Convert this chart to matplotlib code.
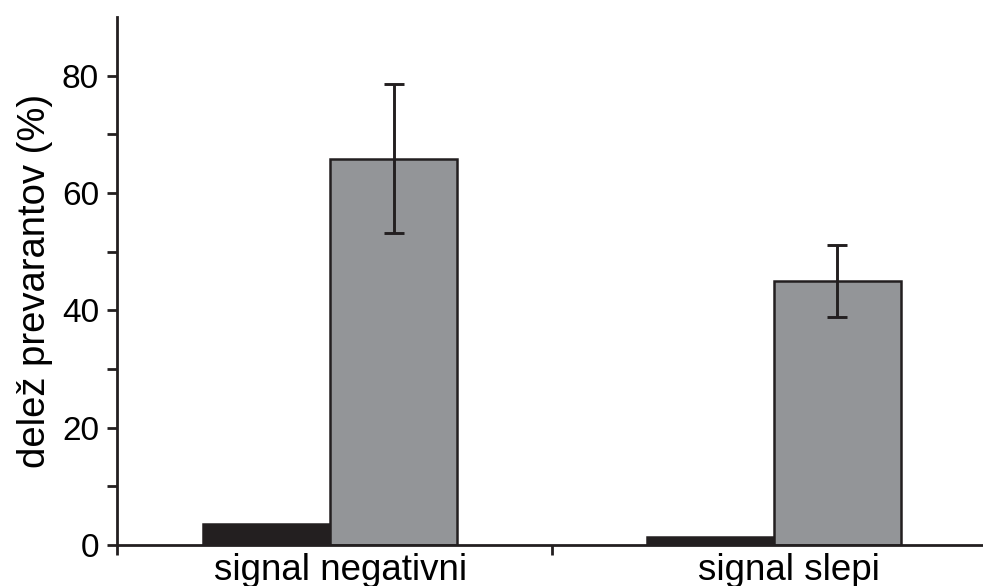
import matplotlib.pyplot as plt

plt.rcParams["font.family"] = ["Liberation Sans", "DejaVu Sans"]

categories = ["signal negativni", "signal slepi"]
black_values = [3.5, 1.3]
gray_values = [65.8, 45.0]
gray_errors = [12.7, 6.1]

group_pos = [0.49, 1.51]
label_pos = [0.515, 1.545]
bar_w = 0.292
edge = "#231f20"

fig = plt.figure(figsize=(9.83, 5.86), dpi=100)
ax = fig.add_axes([0.119, 0.070, 0.885, 0.901])

black_x = [p - bar_w / 2 for p in group_pos]
gray_x = [p + bar_w / 2 for p in group_pos]
ax.bar(black_x, black_values, width=bar_w, color="#231f20", edgecolor=edge, linewidth=1.8)
ax.bar(gray_x, gray_values, width=bar_w, color="#939598", edgecolor=edge, linewidth=1.8)
ax.errorbar(gray_x, gray_values, yerr=gray_errors, fmt="none", ecolor=edge,
            elinewidth=2.1, capsize=7, capthick=2.1)

ax.set_xlim(0, 2)
ax.set_ylim(0, 90)
ax.set_yticks([0, 20, 40, 60, 80])
ax.set_yticks([10, 30, 50, 70], minor=True)
ax.set_xticks([0, 1, 2])
ax.set_xticklabels(["", "", ""])
for x, name in zip(label_pos, categories):
    ax.text(x, -1.4, name, ha="center", va="top", fontsize=26.5)

for side in ["top", "right"]:
    ax.spines[side].set_visible(False)
for side in ["left", "bottom"]:
    ax.spines[side].set_linewidth(2)
    ax.spines[side].set_color(edge)

ax.tick_params(axis="both", which="both", direction="out", length=7, width=2,
               color=edge, labelsize=24)
ax.tick_params(axis="y", pad=6)
ax.set_ylabel("delež prevarantov (%)", fontsize=27.5, labelpad=6)

fig.savefig("out.png", dpi=100)
